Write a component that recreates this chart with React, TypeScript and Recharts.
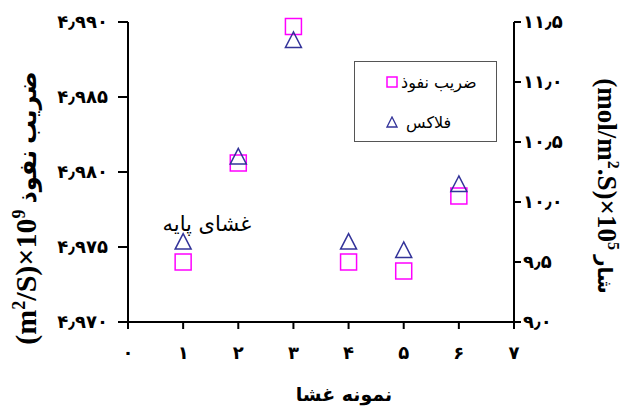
import React from 'react';
import { ScatterChart, Scatter, XAxis, YAxis, Legend, ReferenceDot } from 'recharts';

// membrane samples 1..6 (1 = base membrane)
const samples = [1, 2, 3, 4, 5, 6];
// diffusion coefficient (m2/S)x10^9, left axis
const diffusion = [4.974, 4.9806, 4.9897, 4.974, 4.9734, 4.9784];
// flux (mol/m2.S)x10^5, right axis
const flux = [9.67, 10.38, 11.35, 9.67, 9.6, 10.15];

const xTicks = [0, 1, 2, 3, 4, 5, 6, 7];
const leftTicks = [4.97, 4.975, 4.98, 4.985, 4.99];
const rightTicks = [9.0, 9.5, 10.0, 10.5, 11.0, 11.5];

const diffusionData = samples.map((x, i) => ({ x, y: diffusion[i] }));
const fluxData = samples.map((x, i) => ({ x, y: flux[i] }));

const SERIF = '"Liberation Serif", "DejaVu Sans", serif';
const PERSIAN = '"DejaVu Sans", sans-serif';
const MAGENTA = '#FF00FF';
const NAVY = '#333399';

const fa = (s: string) => s.replace(/[0-9]/g, (d) => '۰۱۲۳۴۵۶۷۸۹'[+d]).replace('.', '٫');

const SquareShape = (props: any) => {
  const { cx, cy } = props;
  return <rect x={cx - 8} y={cy - 8} width={16} height={16} fill="none" stroke={MAGENTA} strokeWidth={1.5} />;
};

const TriangleShape = (props: any) => {
  const { cx, cy } = props;
  return (
    <polygon
      points={`${cx},${cy - 8} ${cx - 8},${cy + 7.5} ${cx + 8},${cy + 7.5}`}
      fill="none"
      stroke={NAVY}
      strokeWidth={1.5}
    />
  );
};

const LegendBox = () => (
  <div
    style={{
      width: 143,
      height: 81,
      boxSizing: 'border-box',
      border: '1px solid #555',
      background: '#fff',
      fontFamily: PERSIAN,
      fontSize: 16,
      color: '#000',
    }}
  >
    <div style={{ display: 'flex', alignItems: 'center', height: 40, paddingLeft: 31 }}>
      <svg width={12} height={12} style={{ marginRight: 3 }}>
        <rect x={1} y={1} width={10} height={10} fill="none" stroke={MAGENTA} strokeWidth={1.5} />
      </svg>
      <span>ضریب نفوذ</span>
    </div>
    <div style={{ display: 'flex', alignItems: 'center', height: 40, paddingLeft: 31 }}>
      <svg width={12} height={12} style={{ marginRight: 8 }}>
        <polygon points="6,1 1,11 11,11" fill="none" stroke={NAVY} strokeWidth={1.3} />
      </svg>
      <span>فلاکس</span>
    </div>
  </div>
);

const LeftTitle = () => (
  <text
    x={36}
    y={208}
    transform="rotate(-90, 36, 208)"
    textAnchor="middle"
    fontFamily={SERIF}
    fontWeight="bold"
    fontSize={30}
    fill="#000"
  >
    <tspan>(m</tspan>
    <tspan fontSize={18} dy={-11}>2</tspan>
    <tspan dy={11}>/S)×10</tspan>
    <tspan fontSize={18} dy={-11}>9</tspan>
    <tspan dy={11} fontSize={24}> ضریب نفوذ</tspan>
  </text>
);

const RightTitle = () => (
  <text
    x={598}
    y={186}
    transform="rotate(90, 598, 186)"
    textAnchor="middle"
    fontFamily={SERIF}
    fontWeight="bold"
    fontSize={27}
    fill="#000"
  >
    <tspan>(mol/m</tspan>
    <tspan fontSize={16} dy={-10}>2</tspan>
    <tspan dy={10}>.S)×10</tspan>
    <tspan fontSize={16} dy={-10}>5</tspan>
    <tspan dy={10} fontSize={20}> شار</tspan>
  </text>
);

const BottomTitle = () => (
  <text x={344} y={401} textAnchor="middle" fontFamily={PERSIAN} fontWeight="bold" fontSize={19} fill="#000">
    نمونه غشا
  </text>
);

const BaseNote = (props: any) => {
  const { viewBox } = props;
  return (
    <text x={viewBox.x} y={viewBox.y + 7} textAnchor="middle" fontFamily={PERSIAN} fontSize={21} fill="#000">
      غشای پایه
    </text>
  );
};

const tickStyle = { fill: '#000', fontSize: 18, fontWeight: 'bold', fontFamily: PERSIAN };

export default function App() {
  return (
    <div style={{ width: 622, height: 410, background: '#fff' }}>
      <style>{'html,body{margin:0;padding:0;overflow:hidden;background:#fff}'}</style>
      <ScatterChart width={622} height={410} margin={{ top: 22, right: 0, bottom: 0, left: 0 }}>
        <XAxis
          type="number"
          dataKey="x"
          domain={[0, 7]}
          ticks={xTicks}
          interval={0}
          height={88}
          axisLine={{ stroke: '#000', strokeWidth: 2 }}
          tickLine={{ stroke: '#000', strokeWidth: 2 }}
          tickSize={7}
          tickMargin={17}
          tick={tickStyle}
          tickFormatter={(v: number) => fa(String(v))}
          label={<BottomTitle />}
        />
        <YAxis
          yAxisId="left"
          type="number"
          dataKey="y"
          domain={[4.97, 4.99]}
          ticks={leftTicks}
          interval={0}
          width={128}
          axisLine={{ stroke: '#000', strokeWidth: 2 }}
          tickLine={{ stroke: '#000', strokeWidth: 2 }}
          tickSize={10}
          tickMargin={10}
          tick={tickStyle}
          tickFormatter={(v: number) => fa(v.toFixed(3))}
          label={<LeftTitle />}
        />
        <YAxis
          yAxisId="right"
          orientation="right"
          type="number"
          dataKey="y"
          domain={[9, 11.5]}
          ticks={rightTicks}
          interval={0}
          width={108}
          axisLine={{ stroke: '#000', strokeWidth: 2 }}
          tickLine={{ stroke: '#000', strokeWidth: 2 }}
          tickSize={7}
          tickMargin={2}
          tick={tickStyle}
          tickFormatter={(v: number) => fa(v.toFixed(1))}
          label={<RightTitle />}
        />
        <Legend
          layout="vertical"
          align="center"
          verticalAlign="middle"
          content={<LegendBox />}
          wrapperStyle={{ position: 'absolute', left: 354, top: 61, width: 143, height: 81 }}
        />
        <ReferenceDot yAxisId="right" x={1.43} y={9.82} r={0} fill="none" stroke="none" label={<BaseNote />} />
        <Scatter yAxisId="left" name="ضریب نفوذ" data={diffusionData} shape={<SquareShape />} isAnimationActive={false} />
        <Scatter yAxisId="right" name="فلاکس" data={fluxData} shape={<TriangleShape />} isAnimationActive={false} />
      </ScatterChart>
    </div>
  );
}
